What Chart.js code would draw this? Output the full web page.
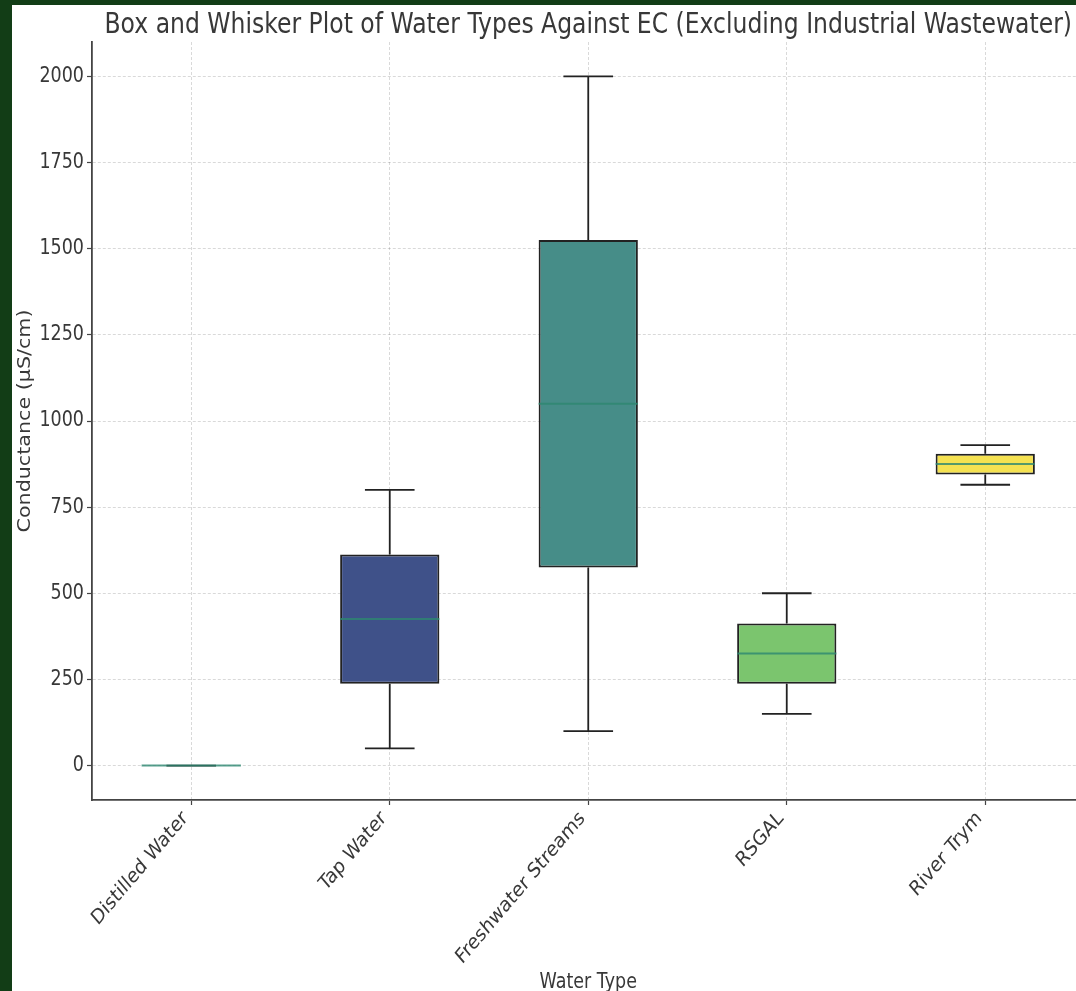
<!DOCTYPE html>
<html>
<head>
<meta charset="utf-8">
<script src="https://cdn.jsdelivr.net/npm/chart.js@4.4.1/dist/chart.umd.min.js"></script>
<style>
  html, body { margin: 0; padding: 0; overflow: hidden; background: #123d16; width: 1076px; height: 991px; }
  #frame { position: absolute; left: 12px; top: 5px; width: 1090px; height: 986px; background: #ffffff; }
  canvas { display: block; }
</style>
</head>
<body>
<div id="frame"><canvas id="chart" width="1090" height="986"></canvas></div>
<script>
// Water types and their EC summary statistics (µS/cm)
const waterTypes = ['Distilled Water', 'Tap Water', 'Freshwater Streams', 'RSGAL', 'River Trym'];
const whiskerLow  = [0,   50,    100,  150,   815];
const quartile1   = [0,   237.5, 575,  237.5, 845];
const medians     = [0,   425,   1050, 325,   875];
const quartile3   = [0,   612.5, 1525, 412.5, 905];
const whiskerHigh = [0,   800,   2000, 500,   930];
const yTickValues = [0, 250, 500, 750, 1000, 1250, 1500, 1750, 2000];
const boxColors = ['#4a1d5e', '#3f5189', '#468d88', '#7bc56e', '#f5e251'];

const chartTitle = 'Box and Whisker Plot of Water Types Against EC (Excluding Industrial Wastewater)';
const xAxisTitle = 'Water Type';
const yAxisTitle = 'Conductance (µS/cm)';

const FONT = "'DejaVu Sans', sans-serif";
const TEXT = '#383838';
const STRETCH = 1.18;   // glyphs are drawn taller than wide

function drawText(ctx, text, x, y, opts) {
  ctx.save();
  ctx.translate(x, y);
  ctx.scale(1, STRETCH);
  if (opts.rotate) ctx.rotate(opts.rotate);
  ctx.font = opts.size + 'px ' + FONT;
  ctx.fillStyle = TEXT;
  ctx.textAlign = opts.align || 'center';
  ctx.textBaseline = opts.baseline || 'middle';
  ctx.fillText(text, opts.dx || 0, opts.dy || 0);
  ctx.restore();
}

// Whiskers, caps, medians and all text around the floating bars (the boxes)
const boxLines = {
  id: 'boxLines',
  beforeDatasetsDraw(chart) {
    const { ctx, scales: { y } } = chart;
    const bars = chart.getDatasetMeta(0).data;
    ctx.save();
    ctx.strokeStyle = '#222222';
    ctx.lineWidth = 1.8;
    bars.forEach((bar, i) => {
      const cx = bar.x;
      const half = bar.width / 4;
      const pLow = y.getPixelForValue(whiskerLow[i]);
      const pQ1 = y.getPixelForValue(quartile1[i]);
      const pQ3 = y.getPixelForValue(quartile3[i]);
      const pHigh = y.getPixelForValue(whiskerHigh[i]);
      ctx.beginPath();
      ctx.moveTo(cx, pQ3); ctx.lineTo(cx, pHigh);
      ctx.moveTo(cx, pQ1); ctx.lineTo(cx, pLow);
      ctx.moveTo(cx - half, pHigh); ctx.lineTo(cx + half, pHigh);
      ctx.moveTo(cx - half, pLow); ctx.lineTo(cx + half, pLow);
      ctx.stroke();
    });
    ctx.restore();
  },
  afterDatasetsDraw(chart) {
    const { ctx, scales: { y } } = chart;
    const bars = chart.getDatasetMeta(0).data;
    ctx.save();
    ctx.strokeStyle = 'rgba(45, 135, 112, 0.8)';
    ctx.lineWidth = 2;
    bars.forEach((bar, i) => {
      const pm = y.getPixelForValue(medians[i]);
      ctx.beginPath();
      ctx.moveTo(bar.x - bar.width / 2, pm);
      ctx.lineTo(bar.x + bar.width / 2, pm);
      ctx.stroke();
    });
    ctx.restore();
  },
  afterDraw(chart) {
    const { ctx, chartArea, scales: { x, y } } = chart;
    const midX = (chartArea.left + chartArea.right) / 2;
    const midY = (chartArea.top + chartArea.bottom) / 2;

    drawText(ctx, chartTitle, midX, 28, { size: 23.5, baseline: 'alphabetic' });

    yTickValues.forEach(v => {
      drawText(ctx, String(v), chartArea.left - 8, y.getPixelForValue(v), { size: 17.5, align: 'right' });
    });

    waterTypes.forEach((label, i) => {
      drawText(ctx, label, x.getPixelForValue(i) - 12, chartArea.bottom + 8,
        { size: 17.5, align: 'right', baseline: 'top', rotate: -Math.PI / 4 });
    });

    drawText(ctx, yAxisTitle, 13, midY, { size: 17.5, rotate: -Math.PI / 2 });
    drawText(ctx, xAxisTitle, midX, 978, { size: 17.5 });
  }
};

new Chart(document.getElementById('chart'), {
  type: 'bar',
  data: {
    labels: waterTypes,
    datasets: [{
      data: waterTypes.map((_, i) => [quartile1[i], quartile3[i]]),
      backgroundColor: boxColors,
      borderColor: '#222222',
      borderWidth: 2,
      borderSkipped: false,
      barPercentage: 0.5,
      categoryPercentage: 1.0
    }]
  },
  options: {
    responsive: false,
    animation: false,
    layout: { padding: { top: 37, right: 17.5, left: 0, bottom: 0 } },
    plugins: { legend: { display: false }, tooltip: { enabled: false } },
    scales: {
      x: {
        offset: true,
        grid: {
          offset: false,
          color: 'rgba(0,0,0,0.15)',
          lineWidth: 1,
          tickColor: '#444444',
          tickLength: 5,
          tickWidth: 1.2
        },
        border: { color: '#444444', width: 1.8, dash: [3, 2] },
        ticks: { display: false },
        afterFit(scale) { scale.height = 191; }
      },
      y: {
        min: -100,
        max: 2100,
        afterBuildTicks(scale) { scale.ticks = yTickValues.map(v => ({ value: v })); },
        grid: {
          color: 'rgba(0,0,0,0.15)',
          lineWidth: 1,
          tickColor: '#444444',
          tickLength: 5,
          tickWidth: 1.2
        },
        border: { color: '#444444', width: 1.8, dash: [3, 2] },
        ticks: { display: false },
        afterFit(scale) { scale.width = 80; }
      }
    }
  },
  plugins: [boxLines]
});
</script>
</body>
</html>
